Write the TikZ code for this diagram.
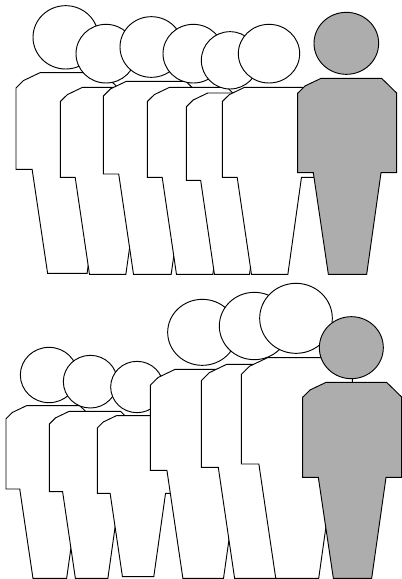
\documentclass[tikz,border=0pt]{standalone}
\usepackage{tikz}
\definecolor{persongray}{HTML}{ADADAD}

\begin{document}
\begin{tikzpicture}[x=0.25pt, y=-0.25pt, line join=miter,
    whiteperson/.style={draw=black, line width=0.7pt, fill=white},
    grayperson/.style={draw=black, line width=0.7pt, fill=persongray}]
\useasboundingbox (0,0) rectangle (1206,1737);
% Upper row
\foreach \x/\w/\t/\a/\f/\cx/\cy/\rx/\ry/\s in {
    48/306/218/508/820/197/112/98/95/whiteperson,
    181/282/262/532/823/318/161/90/88/whiteperson,
    310/292/244/522/823/454/141/94/91/whiteperson,
    442/282/262/532/823/580/161/91/88/whiteperson,
    559/272/279/541/823/690/181/86/86/whiteperson,
    667/282/262/532/823/807/161/92/88/whiteperson,
    893/297/235/518/823/1039/130/97/93/grayperson} {
  \pgfmathsetmacro{\h}{\f-\t}
  \draw[\s] (\x,\t+0.076*\h) -- (\x+0.074*\w,\t+0.039*\h) -- (\x+0.236*\w,\t) -- (\x+0.848*\w,\t)
    -- (\x+\w,\t+0.075*\h) -- (\x+\w,\a) -- (\x+0.842*\w,\a) -- (\x+0.697*\w,\f) -- (\x+0.31*\w,\f)
    -- (\x+0.158*\w,\a) -- (\x,\a) -- cycle;
  \draw[\s] (\cx,\cy) ellipse [x radius=\rx, y radius=\ry];
}
% Lower row
\begin{scope}[yshift=-210pt]
\foreach \x/\w/\t/\a/\f/\cx/\cy/\rx/\ry/\s in {
    18/261/377/627/895/147/285/86/83/whiteperson,
    148/252/394/635/895/271/305/81/79/whiteperson,
    292/243/407/640/890/411/321/79/77/whiteperson,
    451/315/268/571/895/607/157/104/99/whiteperson,
    604/322/253/562/895/763/138/105/101/whiteperson,
    724/333/233/552/895/888/115/109/105/whiteperson,
    908/297/307/592/895/1054/203/96/93/grayperson} {
  \pgfmathsetmacro{\h}{\f-\t}
  \draw[\s] (\x,\t+0.076*\h) -- (\x+0.074*\w,\t+0.039*\h) -- (\x+0.236*\w,\t) -- (\x+0.848*\w,\t)
    -- (\x+\w,\t+0.075*\h) -- (\x+\w,\a) -- (\x+0.842*\w,\a) -- (\x+0.697*\w,\f) -- (\x+0.31*\w,\f)
    -- (\x+0.158*\w,\a) -- (\x,\a) -- cycle;
  \draw[\s] (\cx,\cy) ellipse [x radius=\rx, y radius=\ry];
}
\draw[whiteperson] (1057,296) -- (1057,307);
\end{scope}
\end{tikzpicture}
\end{document}
